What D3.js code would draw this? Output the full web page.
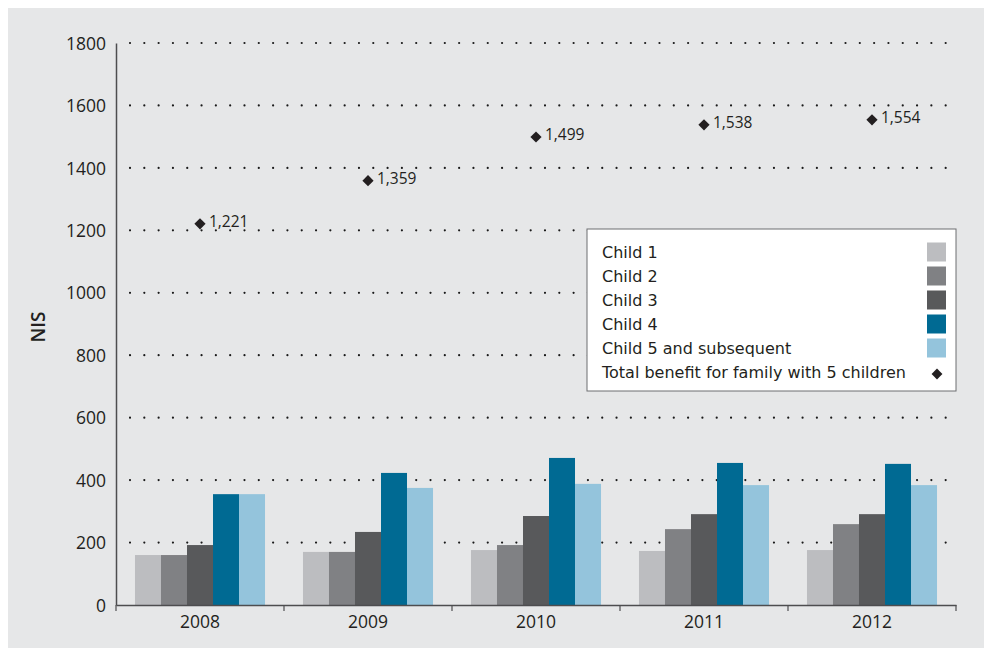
<!DOCTYPE html>
<html>
<head>
<meta charset="utf-8">
<script src="https://cdn.jsdelivr.net/npm/d3@7"></script>
<style>
  html, body { margin: 0; padding: 0; background: #ffffff; }
  svg { display: block; }
</style>
</head>
<body>
<svg id="chart" width="984" height="648"></svg>
<script>
const years = ["2008", "2009", "2010", "2011", "2012"];
const seriesNames = ["Child 1", "Child 2", "Child 3", "Child 4", "Child 5 and subsequent"];
const child1 = [160, 170, 176, 173, 176];
const child2 = [160, 170, 192, 243, 259];
const child3 = [192, 234, 285, 291, 291];
const child4 = [355, 423, 471, 455, 452];
const child5 = [355, 375, 388, 384, 384];
const totals = [1221, 1359, 1499, 1538, 1554];
const yTicks = [0, 200, 400, 600, 800, 1000, 1200, 1400, 1600, 1800];
const totalLabel = "Total benefit for family with 5 children";
const colors = ["#bcbdc0", "#808184", "#58595b", "#006a93", "#94c4dc"];

const series = [child1, child2, child3, child4, child5];

const svg = d3.select("#chart");
const font = "'Open Sans', 'DejaVu Sans', sans-serif";

// panel background
svg.append("rect").attr("x", 8).attr("y", 8).attr("width", 976).attr("height", 640).attr("fill", "#e6e7e8");

const pLeft = 116, pRight = 956, pTop = 43, pBottom = 605;

const x = d3.scaleBand().domain(years).range([pLeft, pRight]).paddingInner(0).paddingOuter(0);
const xInner = d3.scaleBand().domain(seriesNames).range([0, x.bandwidth()]).paddingOuter(0.73).paddingInner(0);
const y = d3.scaleLinear().domain([0, 1800]).range([pBottom, pTop]);

// dotted gridlines
const grid = svg.append("g");
yTicks.filter(t => t > 0).forEach(t => {
  grid.append("line")
    .attr("x1", pLeft + 14).attr("x2", pRight + 1)
    .attr("y1", y(t)).attr("y2", y(t))
    .attr("stroke", "#1a1a1a").attr("stroke-width", 2.2)
    .attr("stroke-linecap", "round")
    .attr("stroke-dasharray", "0.01 14.3");
});

// bars
const barsG = svg.append("g");
years.forEach((yr, i) => {
  series.forEach((s, j) => {
    barsG.append("rect")
      .attr("x", x(yr) + xInner(seriesNames[j]))
      .attr("y", y(s[i]))
      .attr("width", xInner.bandwidth())
      .attr("height", y(0) - y(s[i]))
      .attr("fill", colors[j]);
  });
});

// Y axis
const yAxis = d3.axisLeft(y).tickValues(yTicks).tickSize(0).tickPadding(10).tickFormat(d3.format("d"));
const yg = svg.append("g").attr("transform", `translate(${pLeft},0)`).call(yAxis);
yg.select(".domain").attr("stroke", "#4d4d4f").attr("stroke-width", 1.5);
yg.selectAll("text").attr("font-family", font).attr("font-size", 17.5).attr("fill", "#231f20").attr("dy", "0.35em");

// X axis
const xAxis = d3.axisBottom(x).tickSize(0).tickPadding(8);
const xg = svg.append("g").attr("transform", `translate(0,${pBottom})`).call(xAxis);
xg.select(".domain").attr("stroke", "#4d4d4f").attr("stroke-width", 1.5);
xg.selectAll("text").attr("font-family", font).attr("font-size", 17.5).attr("fill", "#231f20").attr("dy", "0.85em");
// category boundary ticks
const bounds = years.map(yr => x(yr)).concat([pRight]);
bounds.forEach(b => {
  xg.append("line").attr("x1", b).attr("x2", b).attr("y1", 0).attr("y2", 6)
    .attr("stroke", "#4d4d4f").attr("stroke-width", 1.2);
});

// Y title
svg.append("text")
  .attr("transform", `translate(45,327) rotate(-90)`)
  .attr("text-anchor", "middle")
  .attr("font-family", font)
  .attr("font-size", 19)
  .attr("font-weight", 600)
  .attr("fill", "#231f20")
  .text("NIS");

// totals diamonds
const diamond = d3.symbol().type(d3.symbolDiamond2).size(80);
const tg = svg.append("g");
years.forEach((yr, i) => {
  const cx = x(yr) + x.bandwidth() / 2;
  tg.append("path")
    .attr("d", diamond())
    .attr("transform", `translate(${cx},${y(totals[i])})`)
    .attr("fill", "#231f20");
  tg.append("text")
    .attr("x", cx + 9).attr("y", y(totals[i]) - 2)
    .attr("dy", "0.35em")
    .attr("font-family", font).attr("font-size", 15.5)
    .attr("fill", "#231f20")
    .text(d3.format(",")(totals[i]));
});

// legend
const lg = svg.append("g");
const lx = 587, ly = 229, lw = 369, lh = 162;
lg.append("rect").attr("x", lx).attr("y", ly).attr("width", lw).attr("height", lh)
  .attr("fill", "#ffffff").attr("stroke", "#6d6e71").attr("stroke-width", 1);
const legendItems = seriesNames.concat([totalLabel]);
legendItems.forEach((name, k) => {
  const ry = ly + 23 + k * 24;
  lg.append("text")
    .attr("x", lx + 15).attr("y", ry)
    .attr("dy", "0.35em")
    .attr("font-family", "'DejaVu Sans', sans-serif")
    .attr("font-size", 16)
    .attr("fill", "#231f20")
    .text(name);
  if (k < seriesNames.length) {
    lg.append("rect")
      .attr("x", 927).attr("y", ry - 9.5)
      .attr("width", 19).attr("height", 19)
      .attr("fill", colors[k]);
  } else {
    lg.append("path")
      .attr("d", d3.symbol().type(d3.symbolDiamond2).size(75)())
      .attr("transform", `translate(937,${ry + 2})`)
      .attr("fill", "#231f20");
  }
});
</script>
</body>
</html>
